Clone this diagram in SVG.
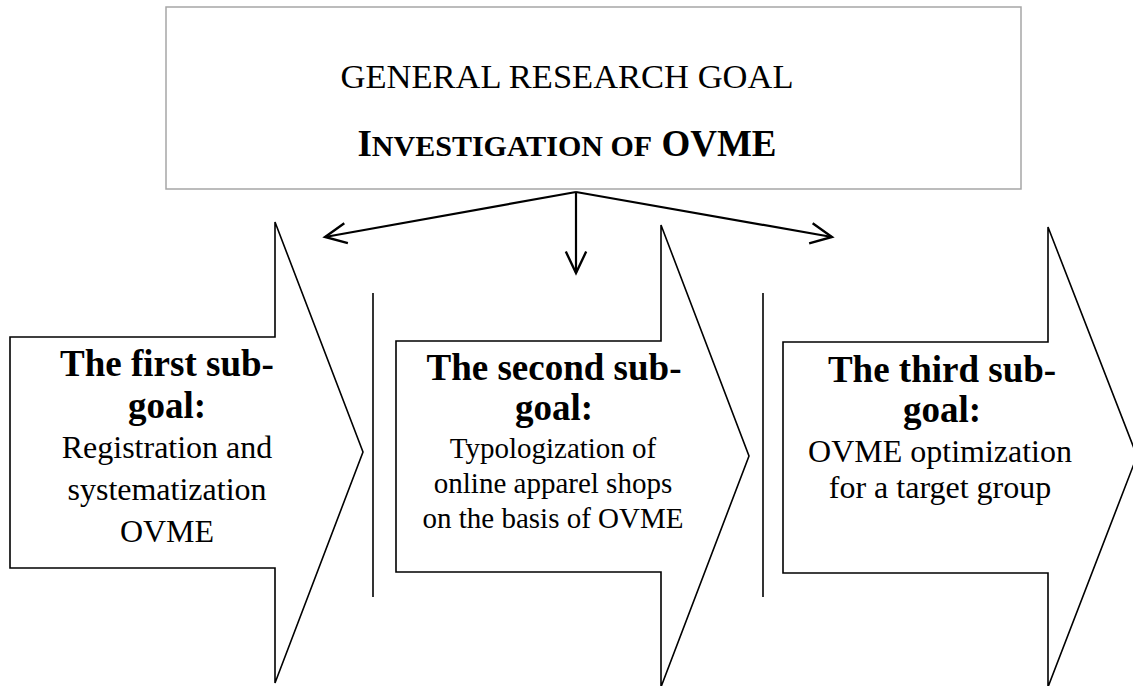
<svg xmlns="http://www.w3.org/2000/svg" width="1133" height="686" viewBox="0 0 1133 686">
  <style>
    .txt { font-family: "Liberation Serif", "Times New Roman", serif; fill: #000; text-anchor: middle; }
    .head { font-size: 37px; font-weight: bold; }
    .body { font-size: 32px; }
    .body2 { font-size: 29px; }
    .goal { fill: #fff; stroke: #000; stroke-width: 1.6; stroke-linejoin: miter; }
    .divider { stroke: #000; stroke-width: 1.6; }
    .link { fill: none; stroke: #000; stroke-width: 2.2; }
  </style>
  <defs>
    <marker id="open-arrow" markerUnits="userSpaceOnUse" markerWidth="30" markerHeight="30" viewBox="-24 -12 28 24" refX="0" refY="0" orient="auto">
      <path d="M-20,-9.5 L0,0 L-20,9.5" fill="none" stroke="#000" stroke-width="2.2" stroke-linejoin="miter"/>
    </marker>
  </defs>

  <rect width="1133" height="686" fill="#fff"/>

  <!-- general research goal -->
  <g id="general-goal">
    <rect x="166" y="7" width="855" height="182" fill="#fff" stroke="#a6a6a6" stroke-width="1.5"/>
    <text class="txt" x="567" y="88" font-size="34.5">GENERAL RESEARCH GOAL</text>
    <text class="txt" x="567" y="156" font-weight="bold" font-size="37">I<tspan font-size="30">NVESTIGATION OF</tspan> OVME</text>
  </g>

  <!-- connectors from the general goal to the sub-goals -->
  <g id="connectors">
    <line class="link" x1="576" y1="192" x2="325" y2="237" marker-end="url(#open-arrow)"/>
    <line class="link" x1="576" y1="192" x2="576" y2="273" marker-end="url(#open-arrow)"/>
    <line class="link" x1="576" y1="192" x2="832" y2="237" marker-end="url(#open-arrow)"/>
  </g>

  <!-- separators between the sub-goals -->
  <g id="separators">
    <line class="divider" x1="373" y1="293" x2="373" y2="597"/>
    <line class="divider" x1="763" y1="293" x2="763" y2="597"/>
  </g>

  <!-- first sub-goal -->
  <g id="subgoal-1">
    <polygon class="goal" points="10,337 275,337 275,222 363,452 275,683 275,568 10,568"/>
    <text class="txt head" x="167" y="376">The first sub-</text>
    <text class="txt head" x="167" y="418">goal:</text>
    <text class="txt body" x="167" y="458">Registration and</text>
    <text class="txt body" x="167" y="500">systematization</text>
    <text class="txt body" x="167" y="542">OVME</text>
  </g>

  <!-- second sub-goal -->
  <g id="subgoal-2">
    <polygon class="goal" points="396,341 661,341 661,225 749,456 661,687 661,572 396,572"/>
    <text class="txt head" x="554" y="380">The second sub-</text>
    <text class="txt head" x="554" y="420">goal:</text>
    <text class="txt body2" x="553" y="458">Typologization of</text>
    <text class="txt body2" x="553" y="493">online apparel shops</text>
    <text class="txt body2" x="553" y="528">on the basis of OVME</text>
  </g>

  <!-- third sub-goal -->
  <g id="subgoal-3">
    <polygon class="goal" points="783,342 1048,342 1048,227 1137,456 1048,687 1048,573 783,573"/>
    <text class="txt head" x="942" y="382">The third sub-</text>
    <text class="txt head" x="942" y="422">goal:</text>
    <text class="txt body" x="940" y="462">OVME optimization</text>
    <text class="txt body" x="940" y="498">for a target group</text>
  </g>
</svg>
